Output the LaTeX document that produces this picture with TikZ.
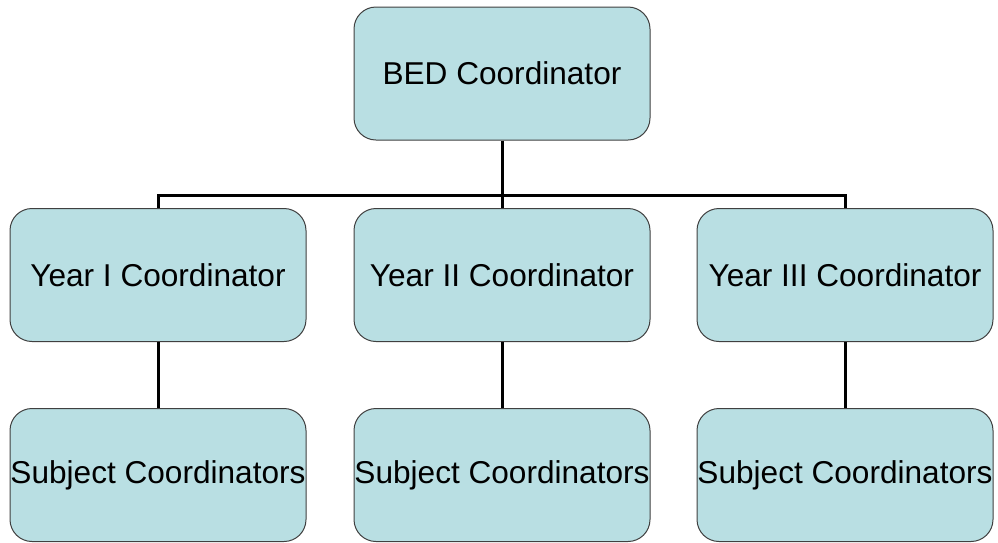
\documentclass[tikz,border=0pt]{standalone}
\usepackage{fontspec}
\setmainfont{Liberation Sans}
\definecolor{boxfill}{RGB}{185,223,227}
\definecolor{boxline}{RGB}{64,64,64}
\begin{document}
\begin{tikzpicture}[x=1pt,y=-1pt,
  orgbox/.style={draw=boxline, line width=1pt, fill=boxfill,
    rounded corners=22pt, minimum width=296pt, minimum height=133pt,
    inner sep=0pt, font=\fontsize{31.6}{38}\selectfont},
  conn/.style={draw=black, line width=3pt}]
\useasboundingbox (0,0) rectangle (998,542);
% height of the horizontal connector bar
\coordinate (bar) at (0,195);
% top level
\node[orgbox] (bed) at (502,73.5) {BED Coordinator};
% year coordinators
\node[orgbox] (y1) at (158,275) {Year I Coordinator};
\node[orgbox] (y2) at (502,275) {Year II Coordinator};
\node[orgbox] (y3) at (845,275) {Year III Coordinator};
% subject coordinators
\node[orgbox] (s1) at (158,475) {Subject Coordinators};
\node[orgbox] (s2) at (502,475) {Subject Coordinators};
\node[orgbox] (s3) at (845,475) {Subject Coordinators};
% connectors
\draw[conn] (bed.south) -- (y2.north);
\draw[conn] (y1.north) -- (y1.north |- bar) -- (y3.north |- bar) -- (y3.north);
\draw[conn] (y1.south) -- (s1.north);
\draw[conn] (y2.south) -- (s2.north);
\draw[conn] (y3.south) -- (s3.north);
\end{tikzpicture}
\end{document}
